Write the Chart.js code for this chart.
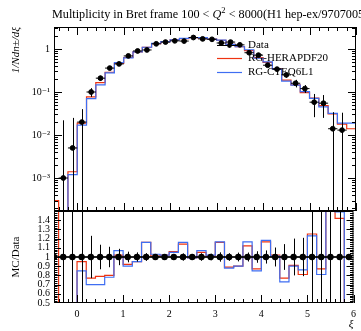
<!DOCTYPE html>
<html lang="en">
<head>
<meta charset="utf-8">
<title>multiplicity in breit frame</title>
<style type="text/css">
  body { margin: 0; background: #fff; }
  #wrap { position: relative; width: 361px; height: 331px; }
  canvas { position: absolute; left: 0; top: 0; }
</style>
</head>
<body>
<div id="wrap">
  <canvas id="ratioChart" width="361" height="331"></canvas>
  <canvas id="mainChart" width="361" height="331"></canvas>
</div>

<script src="https://cdn.jsdelivr.net/npm/chart.js"></script>

<script>

  // ---- data (H1 hep-ex/9707005, xi = ln(1/x_p)) ----
  const dataXi  = [-0.3,-0.1,0.1,0.3,0.5,0.7,0.9,1.1,1.3,1.5,1.7,1.9,2.1,2.3,2.5,2.7,2.9,
                   3.1,3.3,3.5,3.7,3.9,4.1,4.3,4.5,4.7,4.9,5.1,5.3,5.5,5.7];
  const dataVal = [0.001,0.005,0.02,0.10,0.21,0.36,0.45,0.69,0.90,0.95,1.32,1.45,1.55,1.53,1.85,1.72,1.68,
                   1.38,1.45,1.25,0.82,0.72,0.42,0.34,0.25,0.16,0.12,0.058,0.055,0.014,0.013];
  const dataErr = [0.021,0.02,0.02,0.023,0.028,0.04,0.04,0.04,0.045,0.04,0.04,0.045,0.05,0.06,0.06,0.07,0.06,
                   0.07,0.06,0.06,0.04,0.045,0.03,0.035,0.035,0.032,0.025,0.032,0.03,0.02,0.02];

  // MC histograms, bin edges every 0.2 (1e-6 = empty bin)
  const binEdges = [-0.6,-0.4,-0.2,0.0,0.2,0.4,0.6,0.8,1.0,1.2,1.4,1.6,1.8,2.0,2.2,2.4,2.6,2.8,
                    3.0,3.2,3.4,3.6,3.8,4.0,4.2,4.4,4.6,4.8,5.0,5.2,5.4,5.6,5.8,6.0];
  const mcRed  = [3e-4,1e-6,1.4e-3,0.019,0.077,0.166,0.288,0.46,0.635,0.855,1.10,1.33,1.48,1.64,1.74,1.83,1.81,1.70,
                  1.60,1.29,1.13,0.92,0.63,0.49,0.35,0.19,0.146,0.097,0.072,0.048,0.031,0.018,0.014];
  const mcBlue = [1e-6,1e-6,1.2e-3,0.017,0.07,0.147,0.28,0.48,0.62,0.855,1.10,1.36,1.48,1.63,1.77,1.83,1.84,1.71,
                  1.61,1.28,1.13,0.96,0.61,0.50,0.34,0.18,0.144,0.102,0.071,0.045,0.032,0.019,0.019];

  // MC/Data per bin (same edges)
  const ratioRed  = [3,0.01,0.28,0.95,0.77,0.79,0.80,1.02,0.92,0.95,1.16,1.01,1.02,1.06,1.14,0.99,1.05,1.01,
                     1.16,0.89,0.90,1.12,0.87,1.165,1.02,0.77,0.91,0.81,1.25,0.87,2.2,1.42,0.01];
  const ratioBlue = [0.01,0.01,0.24,0.85,0.70,0.70,0.78,1.07,0.90,0.95,1.16,1.03,1.02,1.05,1.16,0.99,1.07,1.02,
                     1.165,0.88,0.90,1.165,0.85,1.18,1.01,0.73,0.90,0.86,1.23,0.81,2.3,1.49,0.01];
  const ratioPtXi = [-0.5,-0.3,-0.1,0.1,0.3,0.5,0.7,0.9,1.1,1.3,1.5,1.7,1.9,2.1,2.3,2.5,2.7,2.9,
                     3.1,3.3,3.5,3.7,3.9,4.1,4.3,4.5,4.7,4.9,5.1,5.3,5.5,5.7,5.9];

  const mainTickVals  = [1e-3, 1e-2, 1e-1, 1];
  const ratioTickVals = [0.5,0.6,0.7,0.8,0.9,1.0,1.1,1.2,1.3,1.4];
  const xTickVals     = [0,1,2,3,4,5,6];

  const SERIF = "'Liberation Serif', 'DejaVu Serif', serif";
  const RED = '#ee3311';
  const BLUE = '#3f6ef2';
  const SUP = {'-1':'⁻¹','-2':'⁻²','-3':'⁻³','-4':'⁻⁴'};

  function xy(xs, ys) { return xs.map((x, i) => ({x: x, y: ys[i]})); }
  function histo(edges, vals) {
    // left edge of each bin, then close on the last right edge
    const pts = vals.map((v, i) => ({x: edges[i], y: v}));
    pts.push({x: edges[vals.length], y: vals[vals.length - 1]});
    return pts;
  }
  function logLabel(v) {
    const p = Math.round(Math.log10(v));
    return p === 0 ? '1' : '10' + SUP[p];
  }

  // tick marks pointing into the frame, plus the frame itself
  const framePlugin = {
    id: 'frame',
    afterDatasetsDraw(chart, args, o) {
      const {ctx, chartArea: a} = chart;
      const xs = chart.scales.x, ys = chart.scales.y;
      ctx.save();
      ctx.strokeStyle = '#000';
      ctx.lineWidth = 1;
      ctx.beginPath();
      for (let i = -2; i <= 30; i++) {
        const px = Math.round(xs.getPixelForValue(i / 5)) + 0.5;
        const len = (i % 5 === 0) ? 8 : 4;
        if (o.xBottom) { ctx.moveTo(px, a.bottom); ctx.lineTo(px, a.bottom - len); }
        if (o.xTop) { ctx.moveTo(px, a.top); ctx.lineTo(px, a.top + len); }
      }
      for (const t of o.yTicks) {
        const py = Math.round(ys.getPixelForValue(t.v)) + 0.5;
        if (py < a.top + 1 || py > a.bottom - 1) continue;
        ctx.moveTo(a.left, py); ctx.lineTo(a.left + t.len, py);
        ctx.moveTo(a.right, py); ctx.lineTo(a.right - t.len, py);
      }
      ctx.stroke();
      ctx.strokeRect(a.left + 0.5, a.top + 0.5, a.width - 1, a.height - 1);
      ctx.restore();
    }
  };

  const errPlugin = {
    id: 'errbars',
    afterDatasetsDraw(chart, args, o) {
      const {ctx, chartArea: a} = chart;
      const xs = chart.scales.x, ys = chart.scales.y;
      ctx.save();
      ctx.beginPath();
      ctx.rect(a.left, a.top, a.width, a.height);
      ctx.clip();
      ctx.strokeStyle = '#000';
      ctx.lineWidth = 1;
      ctx.beginPath();
      o.x.forEach((x, i) => {
        const c = o.c[i], e = o.e[i];
        const px = Math.round(xs.getPixelForValue(x)) + 0.5;
        const hi = ys.getPixelForValue(c + e);
        const lo = (c - e > 0) ? ys.getPixelForValue(c - e) : a.bottom + 2;
        ctx.moveTo(px, Math.max(hi, a.top - 2)); ctx.lineTo(px, Math.min(lo, a.bottom + 2));
        const py = ys.getPixelForValue(c);
        ctx.moveTo(xs.getPixelForValue(x - 0.1), py); ctx.lineTo(xs.getPixelForValue(x + 0.1), py);
      });
      ctx.stroke();
      ctx.restore();
    }
  };

  // title + legend
  const decorPlugin = {
    id: 'decor',
    afterDraw(chart) {
      const ctx = chart.ctx;
      ctx.save();
      ctx.fillStyle = '#000';
      ctx.textBaseline = 'alphabetic';
      const parts = [
        ['Multiplicity in Bret frame 100 < ', '12.2px', 0],
        ['Q', 'italic 12.2px', 0],
        ['2', '8.5px', -5],
        [' < 8000(H1 hep-ex/9707005)', '12.2px', 0]
      ];
      let x = 52;
      for (const p of parts) {
        ctx.font = p[1] + ' ' + SERIF;
        ctx.fillText(p[0], x, 18 + p[2]);
        x += ctx.measureText(p[0]).width;
      }
      // legend
      ctx.font = '11px ' + SERIF;
      ctx.textBaseline = 'middle';
      const lx0 = 217, lx1 = 242, tx = 248;
      ctx.lineWidth = 1;
      ctx.strokeStyle = '#000';
      ctx.beginPath(); ctx.moveTo(lx0, 45.5); ctx.lineTo(lx1, 45.5); ctx.stroke();
      ctx.beginPath(); ctx.arc((lx0 + lx1) / 2, 45.5, 2.4, 0, 2 * Math.PI); ctx.fill();
      ctx.fillText('Data', tx, 45);
      ctx.lineWidth = 1.2;
      ctx.strokeStyle = RED;
      ctx.beginPath(); ctx.moveTo(lx0, 58.5); ctx.lineTo(lx1, 58.5); ctx.stroke();
      ctx.fillText('RG-HERAPDF20', tx, 58);
      ctx.strokeStyle = BLUE;
      ctx.beginPath(); ctx.moveTo(lx0, 72.5); ctx.lineTo(lx1, 72.5); ctx.stroke();
      ctx.fillText('RG-CTEQ6L1', tx, 72);
      ctx.restore();
    }
  };

  const logTicks = [];
  for (let d = -4; d <= 0; d++) {
    for (let k = 1; k <= 9; k++) logTicks.push({v: k * Math.pow(10, d), len: k === 1 ? 8 : 4});
  }
  const linTicks = [];
  for (let i = 25; i <= 75; i++) linTicks.push({v: i / 50, len: i % 5 === 0 ? 7 : 3.5});

  const tickFont = {family: SERIF, size: 10};

  // ---- main panel ----
  new Chart(document.getElementById('mainChart'), {
    type: 'scatter',
    data: {
      datasets: [{
        label: 'Data',
        data: xy(dataXi, dataVal),
        backgroundColor: '#000',
        borderColor: '#000',
        pointRadius: 2.4,
        order: 0
      }, {
        label: 'RG-CTEQ6L1',
        type: 'line',
        data: histo(binEdges, mcBlue),
        borderColor: BLUE,
        borderWidth: 1.2,
        stepped: true,
        pointRadius: 0,
        fill: false,
        clip: 0,
        order: 1
      }, {
        label: 'RG-HERAPDF20',
        type: 'line',
        data: histo(binEdges, mcRed),
        borderColor: RED,
        borderWidth: 1.2,
        stepped: true,
        pointRadius: 0,
        fill: false,
        clip: 0,
        order: 2
      }]
    },
    options: {
      responsive: false,
      animation: false,
      devicePixelRatio: 1,
      layout: {padding: {top: 27, right: 1, bottom: 120, left: 0}},
      plugins: {
        legend: {display: false},
        tooltip: {enabled: false},
        frame: {xTop: true, xBottom: true, yTicks: logTicks},
        errbars: {x: dataXi, c: dataVal, e: dataErr}
      },
      scales: {
        x: {type: 'linear', min: -0.5, max: 6, display: false},
        y: {
          type: 'logarithmic',
          min: 1.71e-4, max: 3.25,
          position: 'left',
          grid: {display: false, drawTicks: false},
          border: {display: false},
          afterBuildTicks: (axis) => { axis.ticks = mainTickVals.map(v => ({value: v})); },
          afterFit: (axis) => { axis.width = 54; },
          ticks: {font: tickFont, color: '#000', padding: 4, autoSkip: false, callback: (v) => logLabel(v)},
          title: {display: true, text: '1/Ndn±/dξ', align: 'end', color: '#000',
                  font: {family: SERIF, size: 11, style: 'italic'}, padding: {top: 10, bottom: 0}}
        }
      }
    },
    plugins: [framePlugin, errPlugin, decorPlugin]
  });

  // ---- ratio panel ----
  new Chart(document.getElementById('ratioChart'), {
    type: 'scatter',
    data: {
      datasets: [{
        label: 'Data',
        data: xy(ratioPtXi, ratioPtXi.map(() => 1)),
        backgroundColor: '#000',
        borderColor: '#000',
        borderWidth: 1.6,
        showLine: true,
        pointRadius: 2.4,
        order: 0
      }, {
        label: 'RG-CTEQ6L1',
        type: 'line',
        data: histo(binEdges, ratioBlue),
        borderColor: BLUE,
        borderWidth: 1.2,
        stepped: true,
        pointRadius: 0,
        fill: false,
        clip: 0,
        order: 1
      }, {
        label: 'RG-HERAPDF20',
        type: 'line',
        data: histo(binEdges, ratioRed),
        borderColor: RED,
        borderWidth: 1.2,
        stepped: true,
        pointRadius: 0,
        fill: false,
        clip: 0,
        order: 2
      }]
    },
    options: {
      responsive: false,
      animation: false,
      devicePixelRatio: 1,
      layout: {padding: {top: 211, right: 1, bottom: 0, left: 0}},
      plugins: {
        legend: {display: false},
        tooltip: {enabled: false},
        frame: {xTop: false, xBottom: true, yTicks: linTicks},
        errbars: {x: dataXi, c: dataXi.map(() => 1), e: dataErr.map((e, i) => e / dataVal[i])}
      },
      scales: {
        x: {
          type: 'linear', min: -0.5, max: 6,
          position: 'bottom',
          grid: {display: false, drawTicks: false},
          border: {display: false},
          afterBuildTicks: (axis) => { axis.ticks = xTickVals.map(v => ({value: v})); },
          afterFit: (axis) => { axis.height = 28; },
          ticks: {font: tickFont, color: '#000', padding: 5, maxRotation: 0, autoSkip: false},
          title: {display: true, text: 'ξ', align: 'end', color: '#000',
                  font: {family: SERIF, size: 11, style: 'italic'}, padding: {top: 0, bottom: 0}}
        },
        y: {
          type: 'linear', min: 0.5, max: 1.5,
          position: 'left',
          grid: {display: false, drawTicks: false},
          border: {display: false},
          afterBuildTicks: (axis) => { axis.ticks = ratioTickVals.map(v => ({value: v})); },
          afterFit: (axis) => { axis.width = 54; },
          ticks: {font: tickFont, color: '#000', padding: 4, autoSkip: false,
                  callback: (v) => (Math.abs(v - 1) < 1e-9 ? '1' : v.toFixed(1))},
          title: {display: true, text: 'MC/Data', align: 'center', color: '#000',
                  font: {family: SERIF, size: 11}, padding: {top: 10, bottom: 0}}
        }
      }
    },
    plugins: [framePlugin, errPlugin]
  });
</script>
</body>
</html>
